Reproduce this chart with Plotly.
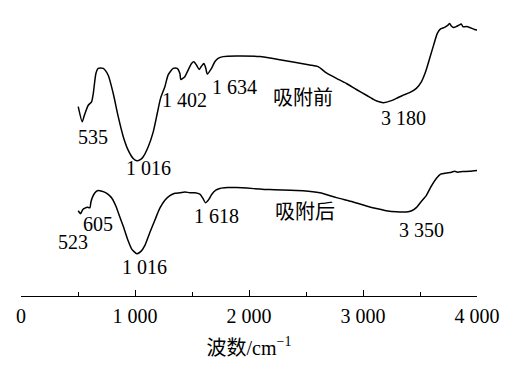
import plotly.graph_objects as go

# ---------- data (wavenumber cm^-1, transmittance a.u.) ----------
before_wn = [502, 537, 556, 590, 619, 634, 657, 677, 721, 765, 809, 853, 897, 940, 984, 1016,
             1050, 1072, 1116, 1160, 1195, 1224, 1262, 1291, 1335, 1370, 1394, 1402, 1437, 1466,
             1496, 1516, 1540, 1563, 1584, 1604, 1620, 1634, 1671, 1700, 1729, 1773, 1890, 2095,
             2270, 2533, 2606, 2679, 2767, 2855, 2942, 3030, 3103, 3150, 3180, 3249, 3293, 3351,
             3409, 3468, 3512, 3549, 3585, 3620, 3652, 3678, 3716, 3745, 3760, 3775, 3795, 3818,
             3841, 3862, 3876, 3906, 3935, 3979, 4023]
before_t = [66.2, 60.9, 63.2, 66.7, 67.9, 70.8, 77.8, 79.6, 79.6, 77.2, 70.8, 62.7, 55.7, 51.0,
            48.1, 47.3, 47.8, 48.7, 52.2, 57.4, 63.8, 69.1, 73.2, 77.3, 79.6, 79.6, 77.8, 75.7,
            76.7, 79.0, 81.3, 81.9, 80.7, 79.2, 80.4, 81.3, 79.8, 77.6, 79.6, 81.9, 83.1, 83.7,
            83.9, 83.7, 82.6, 80.8, 80.2, 78.0, 76.1, 74.3, 72.2, 70.2, 68.5, 67.8, 67.6, 68.3,
            69.1, 70.2, 71.1, 72.6, 74.9, 78.4, 83.1, 87.8, 91.8, 93.3, 93.9, 94.7, 95.3, 94.4,
            93.9, 94.2, 94.7, 95.1, 94.2, 94.2, 93.9, 93.2, 92.8]

after_wn = [502, 523, 541, 561, 581, 605, 613, 631, 649, 670, 692, 727, 762, 797, 833, 868, 903,
            938, 973, 1016, 1052, 1087, 1131, 1174, 1218, 1262, 1306, 1350, 1394, 1437, 1481,
            1525, 1569, 1595, 1618, 1648, 1674, 1709, 1744, 1814, 1890, 2182, 2474, 2621, 2767,
            2912, 3030, 3117, 3234, 3322, 3380, 3427, 3470, 3506, 3556, 3593, 3643, 3681, 3731,
            3777, 3804, 3830, 3874, 3935, 4023]
after_t = [29.8, 28.8, 30.2, 30.7, 31.0, 30.9, 32.8, 34.9, 36.1, 36.8, 36.8, 36.4, 35.6, 34.2,
           31.4, 27.5, 23.7, 19.5, 16.3, 14.8, 15.6, 17.7, 22.3, 26.5, 30.7, 33.5, 35.1, 35.9,
           36.1, 36.4, 36.1, 36.1, 35.6, 34.2, 32.6, 33.8, 35.6, 37.0, 37.6, 37.9, 37.9, 37.2,
           36.8, 36.1, 34.4, 32.9, 31.5, 30.6, 29.6, 29.4, 29.4, 29.8, 31.0, 32.8, 35.2, 38.0,
           41.1, 42.6, 43.0, 43.3, 43.6, 43.3, 43.5, 43.6, 44.0]

before_labels = ["535", "1 016", "1 402", "1 634", "吸附前", "3 180"]
after_labels = ["605", "523", "1 016", "1 618", "吸附后", "3 350"]

tick_vals = [0, 1000, 2000, 3000, 4000]
tick_text = ["0", "1 000", "2 000", "3 000", "4 000"]
x_title = "波数/cm<sup>−1</sup>"

# ---------- figure ----------
FONT = "Liberation Serif, Noto Sans CJK SC, serif"
fig = go.Figure()
fig.add_trace(go.Scatter(x=before_wn, y=before_t, mode="lines",
                         line=dict(color="black", width=1.5, shape="spline", smoothing=0.6),
                         showlegend=False, hoverinfo="skip"))
fig.add_trace(go.Scatter(x=after_wn, y=after_t, mode="lines",
                         line=dict(color="black", width=1.5, shape="spline", smoothing=0.6),
                         showlegend=False, hoverinfo="skip"))

# label anchor positions (x in cm^-1, y in plot units)
before_pos = [(634, 55.7), (1116, 44.6), (1437, 68.7), (1876, 73.2), (2474, 69.1), (3351, 62.1)]
after_pos = [(677, 25.3), (458, 18.9), (1087, 10.2), (1715, 27.9), (2489, 29.4), (3512, 23.0)]

for txt, (xx, yy) in zip(before_labels + after_labels, before_pos + after_pos):
    fig.add_annotation(x=xx, y=yy, text=txt, showarrow=False,
                       font=dict(family=FONT, size=20, color="black"),
                       xanchor="center", yanchor="middle")

fig.update_layout(
    width=525, height=372,
    margin=dict(l=21, r=48, t=10, b=76),
    paper_bgcolor="white", plot_bgcolor="white",
    font=dict(family=FONT, size=20, color="black"),
    xaxis=dict(range=[0, 4000], showline=True, linecolor="black", linewidth=1.2,
               ticks="inside", ticklen=6, tickwidth=1.2, tickcolor="black",
               tickvals=tick_vals, ticktext=tick_text, showgrid=False, zeroline=False,
               ticklabelstandoff=2,
               minor=dict(ticks="inside", ticklen=3.5, tickwidth=1.2, tickcolor="black",
                          dtick=500, tick0=0, showgrid=False),
               tickfont=dict(family=FONT, size=20),
               title=dict(text=x_title, font=dict(family=FONT, size=20), standoff=14)),
    yaxis=dict(range=[0, 100], visible=False, showgrid=False, zeroline=False),
)

fig.write_html("out.html")
